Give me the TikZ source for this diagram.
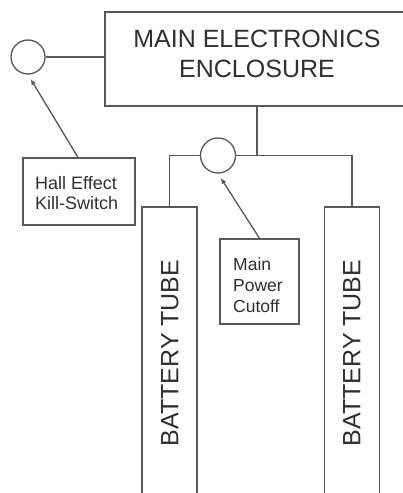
\documentclass[tikz,border=0pt]{standalone}
\usepackage{fontspec}
\setmainfont{Liberation Sans}
\usetikzlibrary{arrows.meta}
\definecolor{ln}{HTML}{585858}
\definecolor{tx}{HTML}{303030}
\begin{document}
\begin{tikzpicture}[x=1pt,y=-1pt,
  box/.style={draw=ln,line width=1.3pt,rectangle,inner sep=0pt},
  sw/.style={draw=ln,line width=1.3pt,circle,inner sep=0pt,minimum size=34pt},
  wire/.style={draw=ln,line width=1.3pt},
  ptr/.style={draw=ln,line width=1.3pt,-{Latex[length=6pt,width=5pt]},shorten >=5pt},
  lbl/.style={text=tx,inner sep=0pt,font=\fontsize{18}{20}\selectfont,align=left},
  big/.style={text=tx,inner sep=0pt,font=\fontsize{25}{30}\selectfont,align=center}]
\useasboundingbox (0,0) rectangle (403,493);
\fill[white] (0,0) rectangle (403,493);
% main enclosure (runs past the right edge)
\node[box,minimum width=304pt,minimum height=94pt] (main) at (257,59) {};
\node[big] (maintxt) at (257,54) {MAIN ELECTRONICS\\ENCLOSURE};
% hall effect switch
\node[sw] (c1) at (28,57) {};
\node[box,minimum width=112pt,minimum height=67pt] (hall) at (79,191.5) {};
\node[lbl,anchor=west] (halltxt) at (35,193) {Hall Effect\\Kill-Switch};
% main power cutoff
\node[sw,minimum size=35pt] (c2) at (218,155.5) {};
\node[box,minimum width=79pt,minimum height=85pt] (cut) at (259.5,281.5) {};
\node[lbl,anchor=west,font=\fontsize{17.5}{21}\selectfont] (cuttxt) at (233,285) {Main\\Power\\Cutoff};
% battery tubes (run past the bottom edge)
\node[box,minimum width=55pt,minimum height=292pt] (tubeL) at (169.5,353) {};
\node[box,minimum width=55pt,minimum height=292pt] (tubeR) at (352,353) {};
\node[big,rotate=90] (tubeLtxt) at (170,353) {BATTERY TUBE};
\node[big,rotate=90] (tubeRtxt) at (352,353) {BATTERY TUBE};
% wiring
\draw[wire] (c1.east) -- (main.west |- c1.east);
\draw[wire] (main.south) -- (main.south |- c2.east);
\draw[wire] (tubeL.north) |- (c2.west);
\draw[wire] (c2.east) -| (tubeR.north);
% pointers
\draw[ptr] (hall.north -| 78,0) -- (c1.south);
\draw[ptr] (cut.north) -- (c2.south);
\end{tikzpicture}
\end{document}
